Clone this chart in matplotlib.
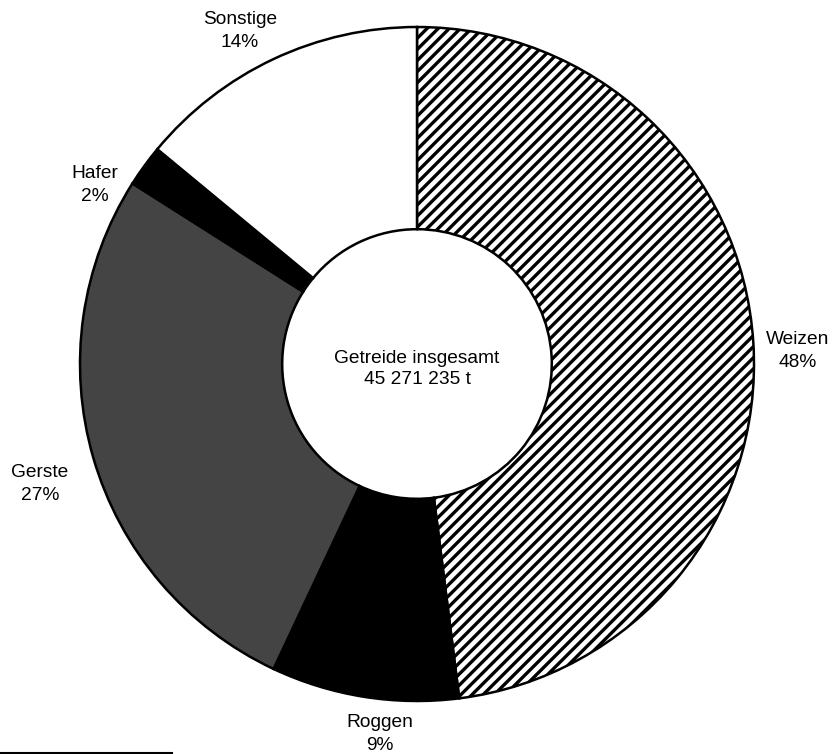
import matplotlib
matplotlib.use('Agg')
from matplotlib import pyplot as plt
from matplotlib.lines import Line2D

# Getreideernte nach Arten (Anteile in %)
sorten = ['Weizen', 'Roggen', 'Gerste', 'Hafer', 'Sonstige']
anteile = [48, 9, 27, 2, 14]
farben = ['white', 'black', '#444444', 'black', 'white']
schraffur = ['///', None, None, None, None]
gesamt_text = 'Getreide insgesamt\n45 271 235 t'

plt.rcParams['font.family'] = ['Liberation Sans', 'DejaVu Sans']
plt.rcParams['hatch.linewidth'] = 2.4

fig = plt.figure(figsize=(8.36, 7.54), dpi=100)
ax = fig.add_axes([0, 0, 1, 1])

mitte = (417, 390)
radius = 337

wedges, _ = ax.pie(anteile, colors=farben, startangle=90, counterclock=False,
                   center=mitte, radius=radius, frame=True,
                   wedgeprops=dict(width=radius * 0.6, edgecolor='black', linewidth=1.8))
for w, h in zip(wedges, schraffur):
    if h:
        w.set_hatch(h)

ax.set_xlim(0, 836)
ax.set_ylim(0, 754)
ax.set_aspect('equal')
ax.axis('off')

# Beschriftungen aussen
label_pos = {
    'Weizen': (798, 403),
    'Roggen': (380, 20),
    'Gerste': (40, 270),
    'Hafer': (95, 569),
    'Sonstige': (240, 723),
}
for name, wert in zip(sorten, anteile):
    x, y = label_pos[name]
    ax.text(x, y, '{}\n{}%'.format(name, wert), ha='center', va='center',
            fontsize=13.8, linespacing=1.4)

ax.text(mitte[0], mitte[1] - 5, gesamt_text, ha='center', va='center',
        fontsize=13.8, linespacing=1.3)

# kurze Linie unten links
fig.add_artist(Line2D([0, 172 / 836], [1.5 / 754, 1.5 / 754], color='black', linewidth=1.5))

fig.savefig('out.png', dpi=100)
